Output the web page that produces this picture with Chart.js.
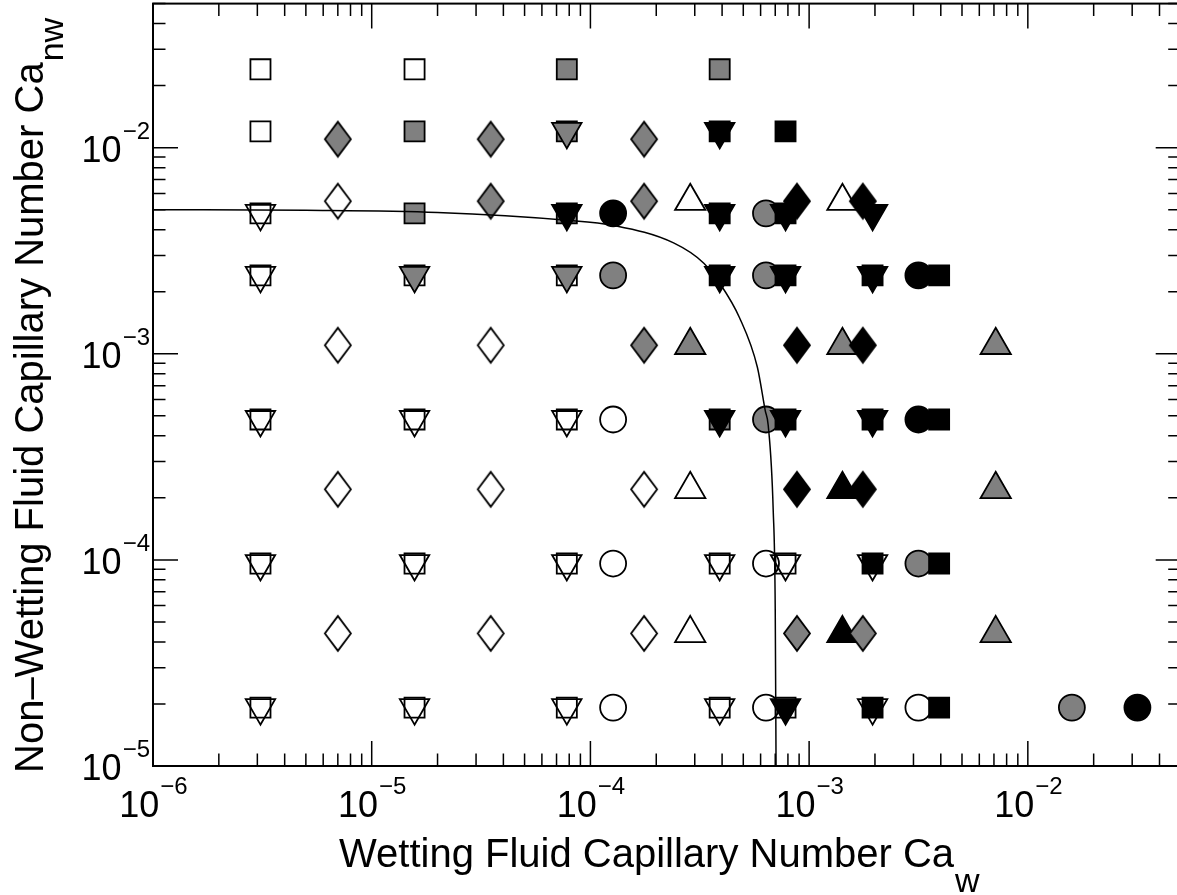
<!DOCTYPE html>
<html>
<head>
<meta charset="utf-8">
<title>Capillary number map</title>
<script src="https://cdn.jsdelivr.net/npm/chart.js@4.4.1/dist/chart.umd.min.js"></script>
<style>
html, body { margin: 0; padding: 0; background: #fff; overflow: hidden; }
#wrap { width: 1184px; height: 895px; }
</style>
</head>
<body>
<div id="wrap"><canvas id="capChart" width="1184" height="895"></canvas></div>
<script>
// [Ca_w, Ca_nw] pairs, one list per marker kind
const openSquare = [
	[3.1e-6, 2.4e-2], [1.57e-5, 2.4e-2], [3.1e-6, 1.2e-2], [3.1e-6, 4.8e-3],
	[3.1e-6, 2.4e-3], [1.57e-5, 2.4e-3], [7.8e-5, 2.4e-3],
	[3.1e-6, 4.8e-4], [1.57e-5, 4.8e-4], [7.8e-5, 4.8e-4],
	[3.1e-6, 9.6e-5], [1.57e-5, 9.6e-5], [7.8e-5, 9.6e-5], [3.9e-4, 9.6e-5], [7.8e-4, 9.6e-5],
	[3.1e-6, 1.92e-5], [1.57e-5, 1.92e-5], [7.8e-5, 1.92e-5], [3.9e-4, 1.92e-5], [7.8e-4, 1.92e-5]
];
const graySquare = [
	[7.8e-5, 2.4e-2], [3.9e-4, 2.4e-2], [1.57e-5, 1.2e-2], [7.8e-5, 1.2e-2],
	[1.57e-5, 4.8e-3], [7.8e-5, 4.8e-3], [3.9e-4, 4.8e-4]
];
const blackSquare = [
	[3.9e-4, 1.2e-2], [7.8e-4, 1.2e-2], [3.9e-4, 4.8e-3], [7.8e-4, 4.8e-3],
	[3.9e-4, 2.4e-3], [7.8e-4, 2.4e-3], [1.95e-3, 2.4e-3], [3.93e-3, 2.4e-3],
	[7.8e-4, 4.8e-4], [1.95e-3, 4.8e-4], [3.93e-3, 4.8e-4],
	[1.95e-3, 9.6e-5], [3.93e-3, 9.6e-5], [1.95e-3, 1.92e-5], [3.93e-3, 1.92e-5]
];
const openCircle = [
	[1.27e-4, 4.8e-4], [1.27e-4, 9.6e-5], [6.35e-4, 9.6e-5],
	[1.27e-4, 1.92e-5], [6.35e-4, 1.92e-5], [3.16e-3, 1.92e-5]
];
const grayCircle = [
	[6.35e-4, 4.8e-3], [1.27e-4, 2.4e-3], [6.35e-4, 2.4e-3], [6.35e-4, 4.8e-4],
	[3.16e-3, 9.6e-5], [1.59e-2, 1.92e-5]
];
const blackCircle = [
	[1.27e-4, 4.8e-3], [3.16e-3, 2.4e-3], [3.16e-3, 4.8e-4], [3.17e-2, 1.92e-5]
];
const openDown = [
	[3.1e-6, 4.8e-3], [3.1e-6, 2.4e-3],
	[3.1e-6, 4.8e-4], [1.57e-5, 4.8e-4], [7.8e-5, 4.8e-4],
	[3.1e-6, 9.6e-5], [1.57e-5, 9.6e-5], [7.8e-5, 9.6e-5], [3.9e-4, 9.6e-5], [7.8e-4, 9.6e-5], [1.95e-3, 9.6e-5],
	[3.1e-6, 1.92e-5], [1.57e-5, 1.92e-5], [7.8e-5, 1.92e-5], [3.9e-4, 1.92e-5], [1.95e-3, 1.92e-5]
];
const grayDown = [
	[7.8e-5, 1.2e-2], [1.57e-5, 2.4e-3], [7.8e-5, 2.4e-3]
];
const blackDown = [
	[3.9e-4, 1.2e-2], [7.8e-5, 4.8e-3], [3.9e-4, 4.8e-3], [7.8e-4, 4.8e-3], [1.95e-3, 4.8e-3],
	[3.9e-4, 2.4e-3], [7.8e-4, 2.4e-3], [1.95e-3, 2.4e-3],
	[3.9e-4, 4.8e-4], [7.8e-4, 4.8e-4], [1.95e-3, 4.8e-4], [7.8e-4, 1.92e-5]
];
const openDiamond = [
	[7.0e-6, 5.5e-3], [7.0e-6, 1.1e-3], [3.5e-5, 1.1e-3],
	[7.0e-6, 2.2e-4], [3.5e-5, 2.2e-4], [1.76e-4, 2.2e-4],
	[7.0e-6, 4.4e-5], [3.5e-5, 4.4e-5], [1.76e-4, 4.4e-5]
];
const grayDiamond = [
	[7.0e-6, 1.1e-2], [3.5e-5, 1.1e-2], [1.76e-4, 1.1e-2],
	[3.5e-5, 5.5e-3], [1.76e-4, 5.5e-3], [1.76e-4, 1.1e-3],
	[8.8e-4, 4.4e-5], [1.76e-3, 4.4e-5]
];
const blackDiamond = [
	[8.8e-4, 5.5e-3], [1.76e-3, 5.5e-3], [8.8e-4, 1.1e-3], [1.76e-3, 1.1e-3],
	[8.8e-4, 2.2e-4], [1.76e-3, 2.2e-4]
];
const openUp = [
	[2.86e-4, 5.5e-3], [1.42e-3, 5.5e-3], [2.86e-4, 2.2e-4], [2.86e-4, 4.4e-5]
];
const grayUp = [
	[2.86e-4, 1.1e-3], [1.42e-3, 1.1e-3], [7.13e-3, 1.1e-3], [7.13e-3, 2.2e-4], [7.13e-3, 4.4e-5]
];
const blackUp = [
	[1.42e-3, 2.2e-4], [1.42e-3, 4.4e-5]
];

// boundary curve, points
const curveX = [1e-6, 5e-6, 2e-5, 7.8e-5, 1.27e-4, 2.4e-4, 3.3e-4, 3.9e-4, 4.8e-4, 5.8e-4, 6.3e-4, 6.5e-4, 6.85e-4, 7.0e-4, 7.06e-4];
const curveY = [5.0e-3, 4.97e-3, 4.85e-3, 4.45e-3, 4.2e-3, 3.45e-3, 2.75e-3, 2.2e-3, 1.5e-3, 8.6e-4, 5.3e-4, 4.5e-4, 1.75e-4, 5.7e-5, 1.0e-5];

// decade tick labels
const xExponents = [-6, -5, -4, -3, -2];
const yExponents = [-5, -4, -3, -2];

var GRAY = '#808080';
var FONT = '"Liberation Sans", Arial, Helvetica, sans-serif';

function pts(list) {
	return list.map(function(p) { return { x: p[0], y: p[1] }; });
}

// diamonds are taller than wide, so they get their own little canvas
function diamondImage(fill) {
	var c = document.createElement('canvas');
	c.width = 30;
	c.height = 39;
	var g = c.getContext('2d');
	g.beginPath();
	g.moveTo(15, 2.1);
	g.lineTo(28, 19.5);
	g.lineTo(15, 36.9);
	g.lineTo(2, 19.5);
	g.closePath();
	if (fill) {
		g.fillStyle = fill;
		g.fill();
	}
	g.lineWidth = 1.8;
	g.strokeStyle = '#000';
	g.stroke();
	return c;
}

function markers(list, style, fill, radius, rotation, order) {
	return {
		data: pts(list),
		showLine: false,
		pointStyle: style,
		pointRadius: radius,
		pointRotation: rotation,
		pointBackgroundColor: fill || 'rgba(0,0,0,0)',
		pointBorderColor: '#000',
		pointBorderWidth: 1.8,
		order: order
	};
}

var curve = curveX.map(function(x, i) { return [x, curveY[i]]; });

function drawPower(ctx, exp, x, y, align) {
	var base = '10', sup = '\u2212' + Math.abs(exp);
	ctx.font = '36px ' + FONT;
	var wb = ctx.measureText(base).width;
	ctx.font = '24px ' + FONT;
	var ws = ctx.measureText(sup).width;
	var left = align === 'center' ? x - (wb + ws) / 2 : x - wb - ws;
	ctx.font = '36px ' + FONT;
	ctx.fillText(base, left, y);
	ctx.font = '24px ' + FONT;
	ctx.fillText(sup, left + wb + 1, y - 23);
}

var frame = {
	id: 'frame',
	afterDraw: function(chart) {
		var ctx = chart.ctx, a = chart.chartArea;
		var xs = chart.scales.x, ys = chart.scales.y;
		ctx.save();
		ctx.strokeStyle = '#000';
		ctx.fillStyle = '#000';

		ctx.lineWidth = 2;
		ctx.strokeRect(a.left, a.top, a.right - a.left, a.bottom - a.top);

		// inward ticks on all four sides
		ctx.lineWidth = 1.5;
		ctx.beginPath();
		xExponents.forEach(function(e) {
			for (var m = 1; m <= 9; m++) {
				var v = m * Math.pow(10, e);
				if (v > xs.max) break;
				var px = xs.getPixelForValue(v), len = m === 1 ? 25 : 12.5;
				ctx.moveTo(px, a.bottom); ctx.lineTo(px, a.bottom - len);
				ctx.moveTo(px, a.top); ctx.lineTo(px, a.top + len);
			}
		});
		yExponents.forEach(function(e) {
			for (var m = 1; m <= 9; m++) {
				var v = m * Math.pow(10, e);
				if (v > ys.max) break;
				var py = ys.getPixelForValue(v), len = m === 1 ? 25 : 12.5;
				ctx.moveTo(a.left, py); ctx.lineTo(a.left + len, py);
				ctx.moveTo(a.right, py); ctx.lineTo(a.right - len, py);
			}
		});
		ctx.stroke();

		ctx.textBaseline = 'alphabetic';
		ctx.textAlign = 'left';
		xExponents.forEach(function(e) {
			drawPower(ctx, e, xs.getPixelForValue(Math.pow(10, e)), 817, 'center');
		});
		yExponents.forEach(function(e) {
			drawPower(ctx, e, 149, ys.getPixelForValue(Math.pow(10, e)) + 14, 'right');
		});

		// axis titles
		var xt = 'Wetting Fluid Capillary Number Ca';
		ctx.font = '40px ' + FONT;
		var wx = ctx.measureText(xt).width;
		ctx.fillText(xt, 339, 867);
		ctx.font = '34px ' + FONT;
		ctx.fillText('w', 339 + wx + 1, 892);

		var yt = 'Non\u2013Wetting Fluid Capillary Number Ca';
		ctx.translate(43, 773);
		ctx.rotate(-Math.PI / 2);
		ctx.font = '40px ' + FONT;
		var wy = ctx.measureText(yt).width;
		ctx.fillText(yt, 0, 0);
		ctx.font = '34px ' + FONT;
		ctx.fillText('nw', wy + 1, 20);
		ctx.restore();
	}
};

var ctx = document.getElementById('capChart').getContext('2d');
var capChart = new Chart(ctx, {
	type: 'scatter',
	data: {
		datasets: [
			{
				data: pts(curve),
				showLine: true,
				pointRadius: 0,
				borderColor: '#000',
				borderWidth: 1.5,
				fill: false,
				cubicInterpolationMode: 'monotone',
				order: 0
			},
			markers(openDiamond, diamondImage(null), null, 14, 0, 1),
			markers(grayDiamond, diamondImage(GRAY), GRAY, 14, 0, 1),
			markers(blackDiamond, diamondImage('#000'), '#000', 14, 0, 1),
			markers(openUp, 'triangle', null, 17.5, 0, 2),
			markers(grayUp, 'triangle', GRAY, 17.5, 0, 2),
			markers(blackUp, 'triangle', '#000', 17.5, 0, 2),
			markers(openDown, 'triangle', null, 17, 180, 3),
			markers(grayDown, 'triangle', GRAY, 17, 180, 3),
			markers(blackDown, 'triangle', '#000', 17, 180, 3),
			markers(openSquare, 'rect', null, 14.2, 0, 4),
			markers(graySquare, 'rect', GRAY, 14.2, 0, 4),
			markers(blackSquare, 'rect', '#000', 14.2, 0, 4),
			markers(openCircle, 'circle', null, 13, 0, 5),
			markers(grayCircle, 'circle', GRAY, 13, 0, 5),
			markers(blackCircle, 'circle', '#000', 13, 0, 5)
		]
	},
	options: {
		responsive: false,
		animation: false,
		events: [],
		layout: {
			autoPadding: false,
			padding: { left: 153, right: 3.3, top: 3.6, bottom: 129 }
		},
		scales: {
			x: { type: 'logarithmic', min: 1e-6, max: 0.05, display: false },
			y: { type: 'logarithmic', min: 1e-5, max: 0.05, display: false }
		},
		plugins: {
			legend: { display: false },
			tooltip: { enabled: false }
		}
	},
	plugins: [frame]
});
</script>
</body>
</html>
